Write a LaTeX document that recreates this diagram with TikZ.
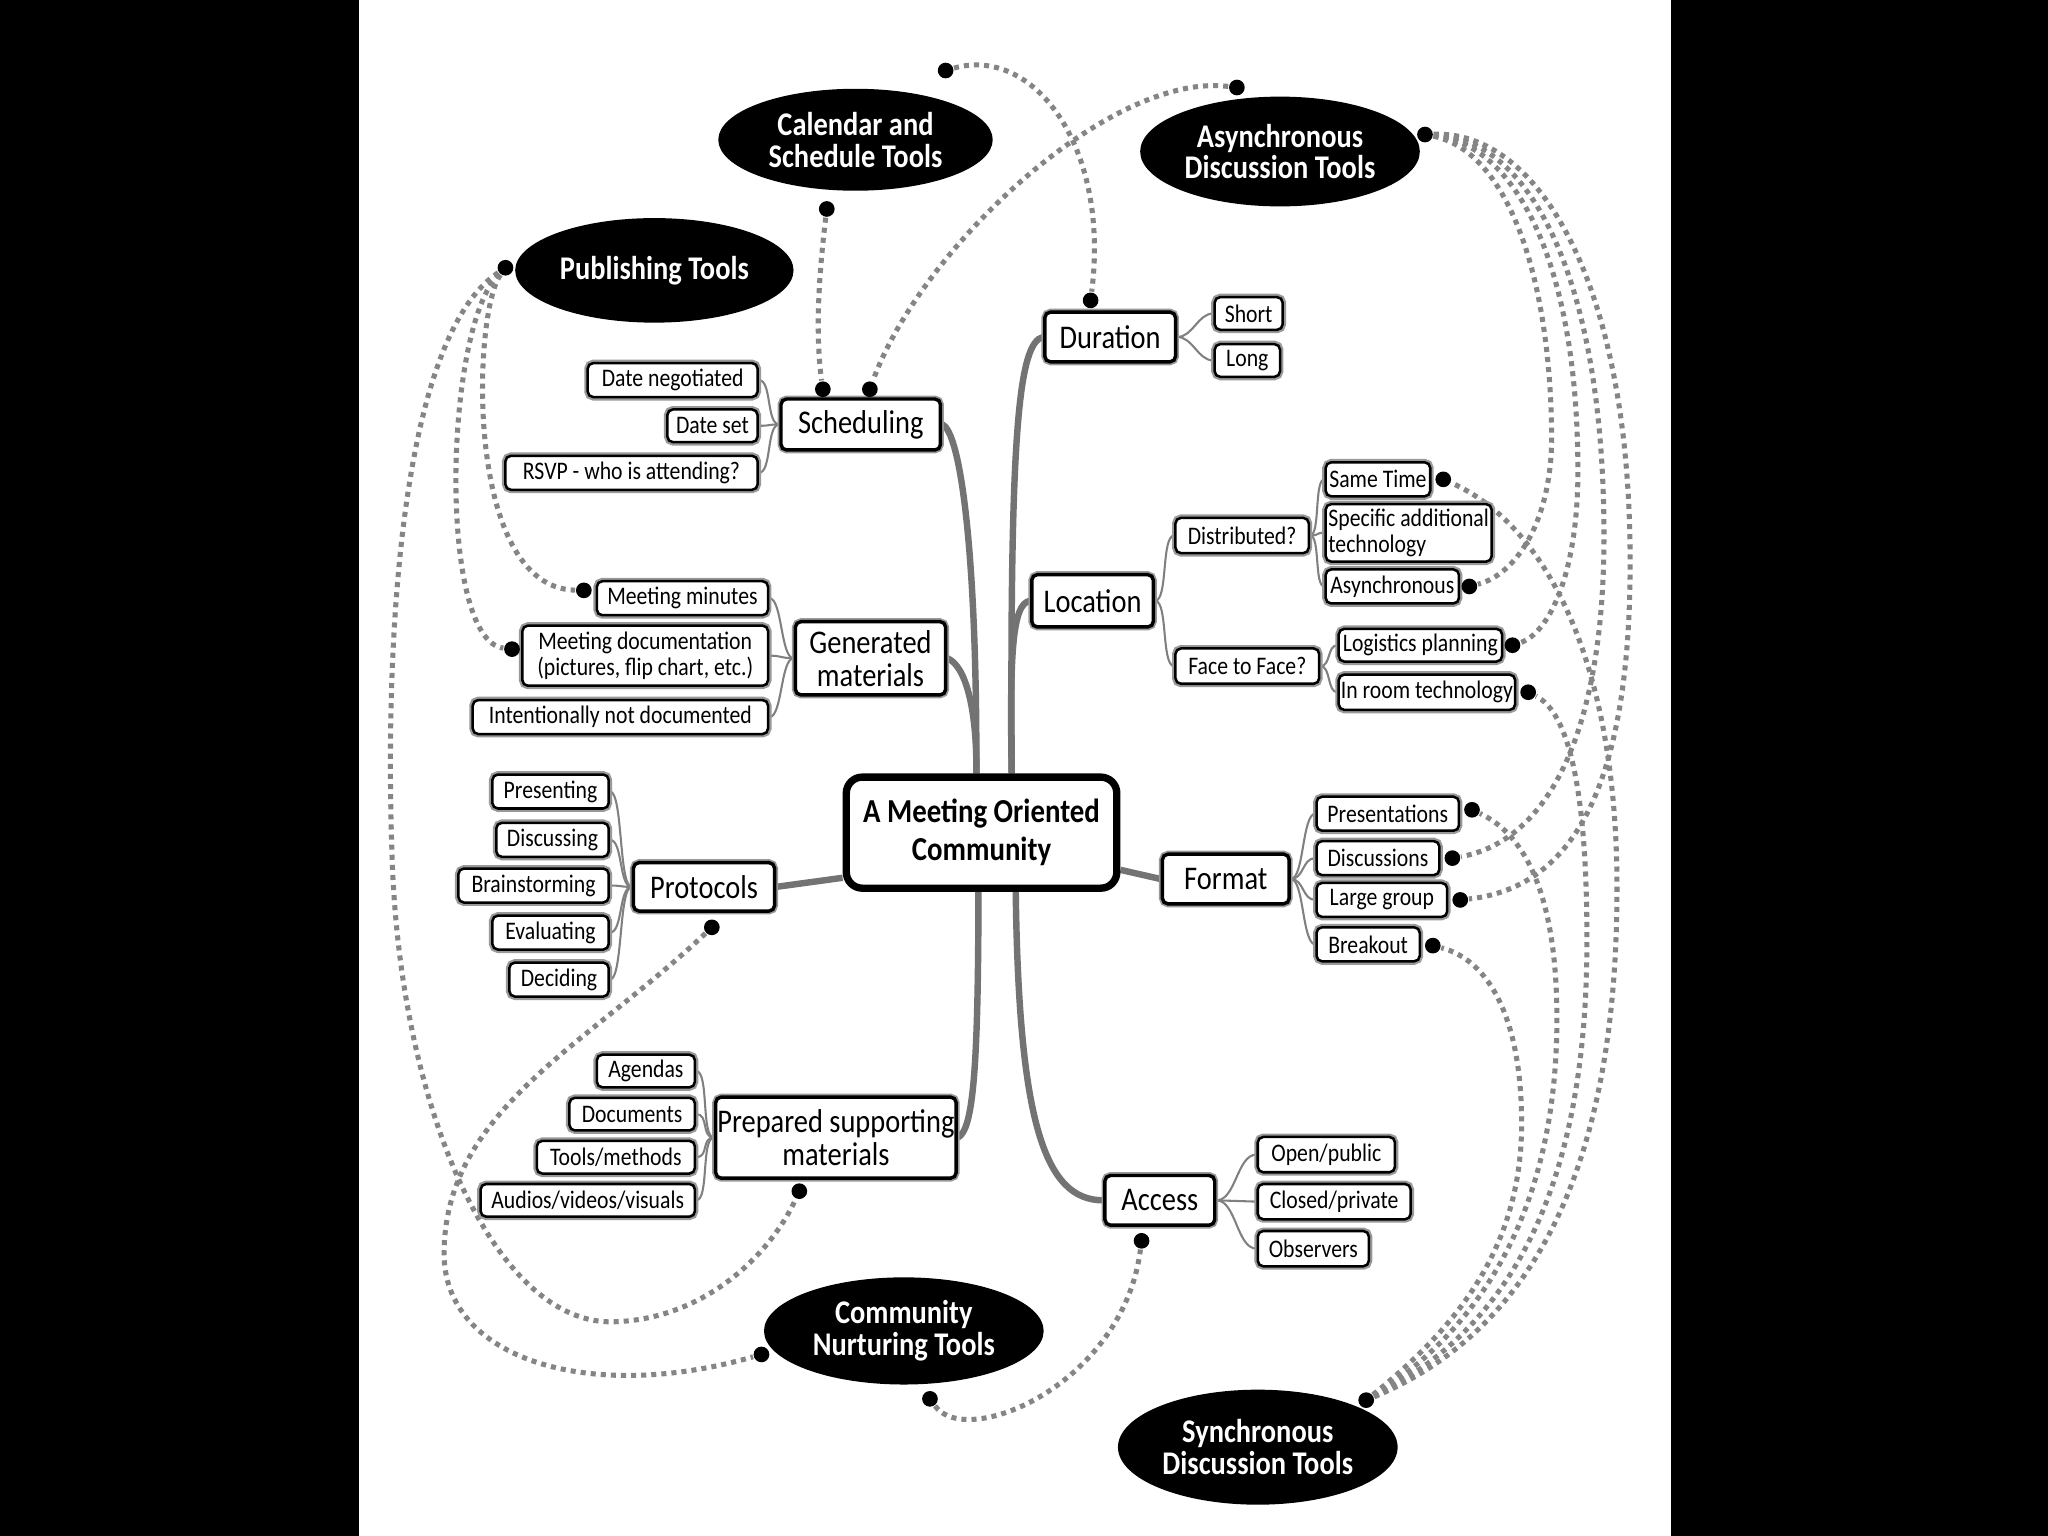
\documentclass[tikz,border=0pt]{standalone}
\usepackage{fontspec}
\setmainfont{Carlito}
\newfontfamily\boxfont{Carlito}[FakeStretch=0.86]
\newfontfamily\toolfont{Carlito}[FakeStretch=0.86]
\usetikzlibrary{shapes.geometric}
\pgfdeclarelayer{bg}
\pgfdeclarelayer{paper}
\pgfsetlayers{paper,bg,main}
\tikzset{
 sbox/.style={draw=black, fill=white, line width=0.55pt, rounded corners=1.2pt, inner sep=0pt, align=center, minimum height=0.26cm, font=\boxfont\fontsize{5.5}{5.8}\selectfont, preaction={draw=black!40, line width=1.5pt}},
 mbox/.style={sbox, line width=0.75pt, font=\boxfont\fontsize{7.2}{7.2}\selectfont},
 ctrbox/.style={draw=black, fill=white, line width=1.6pt, rounded corners=3.5pt, inner sep=0pt, align=center, font=\toolfont\bfseries\fontsize{7.3}{8.3}\selectfont},
 tool/.style={ellipse, fill=black, inner sep=0pt, text=white, align=center, font=\toolfont\bfseries\fontsize{7.2}{6.9}\selectfont},
 dotn/.style={circle, fill=black, inner sep=0pt, minimum size=0.12cm},
 trunk/.style={draw=black!55, line width=1.4pt},
 twig/.style={draw=black!50, line width=0.45pt},
 dotline/.style={draw=black!48, line width=1.1pt, dash pattern=on 1.1pt off 1.1pt},
}
\begin{document}
\begin{tikzpicture}[x=0.01cm,y=-0.01cm]
\useasboundingbox (0,0) rectangle (1568,1176);
\begin{pgfonlayer}{paper}
\fill[white] (0,0) rectangle (1568,1176);
\fill[black] (0,0) rectangle (275,1176);
\fill[black] (1279,0) rectangle (1568,1176);
\end{pgfonlayer}

% centre
\node[ctrbox, minimum width=2.07cm, minimum height=0.85cm] (ctr) at (751.5,637.5) {A Meeting Oriented\\Community};

% tool ellipses
\node[tool, minimum width=2.10cm, minimum height=0.78cm] (cal) at (655,107) {Calendar and\\Schedule Tools};
\node[tool, minimum width=2.14cm, minimum height=0.84cm] (asy) at (980,116) {Asynchronous\\Discussion Tools};
\node[tool, minimum width=2.13cm, minimum height=0.80cm] (pub) at (501,207) {Publishing Tools};
\node[tool, minimum width=2.14cm, minimum height=0.82cm] (cnt) at (692,1019) {Community\\Nurturing Tools};
\node[tool, minimum width=2.14cm, minimum height=0.88cm] (syn) at (963,1108) {Synchronous\\Discussion Tools};

% left main
\node[mbox, minimum width=1.22cm, minimum height=0.39cm] (sched) at (659,325) {Scheduling};
\node[sbox, minimum width=1.30cm] (dn) at (515,291) {Date negotiated};
\node[sbox, minimum width=0.69cm, minimum height=0.25cm] (ds) at (545.5,326) {Date set};
\node[sbox, minimum width=1.93cm] (rsvp) at (483.5,362) {RSVP - who is attending?};

\node[mbox, minimum width=1.15cm, minimum height=0.56cm] (gen) at (666.5,504) {Generated\\materials};
\node[sbox, minimum width=1.31cm] (mm) at (522.5,458) {Meeting minutes};
\node[sbox, minimum width=1.88cm, minimum height=0.46cm] (md) at (494,502) {Meeting documentation\\(pictures, flip chart, etc.)};
\node[sbox, minimum width=2.26cm] (ind) at (475,549) {Intentionally not documented};

\node[mbox, minimum width=1.08cm, minimum height=0.37cm] (prot) at (539,679) {Protocols};
\node[sbox, minimum width=0.89cm] (pres) at (421.5,606) {Presenting};
\node[sbox, minimum width=0.86cm] (disc) at (423,643) {Discussing};
\node[sbox, minimum width=1.15cm] (brain) at (408.5,678) {Brainstorming};
\node[sbox, minimum width=0.89cm] (eval) at (421.5,714) {Evaluating};
\node[sbox, minimum width=0.76cm] (dec) at (428,750) {Deciding};

\node[mbox, minimum width=1.84cm, minimum height=0.62cm] (prep) at (640,871) {Prepared supporting\\materials};
\node[sbox, minimum width=0.75cm, minimum height=0.25cm] (ag) at (494.5,820) {Agendas};
\node[sbox, minimum width=0.96cm, minimum height=0.25cm] (docs) at (484,853) {Documents};
\node[sbox, minimum width=1.21cm, minimum height=0.25cm] (tools) at (471.5,886) {Tools/methods};
\node[sbox, minimum width=1.64cm, minimum height=0.25cm] (av) at (450,919) {Audios/videos/visuals};

% right main
\node[mbox, minimum width=1.00cm, minimum height=0.38cm] (dur) at (850,258) {Duration};
\node[sbox, minimum width=0.52cm, minimum height=0.25cm] (short) at (956,240) {Short};
\node[sbox, minimum width=0.50cm, minimum height=0.25cm] (long) at (955,276) {Long};

\node[mbox, minimum width=0.93cm, minimum height=0.40cm] (loc) at (836.5,460) {Location};
\node[sbox, minimum width=1.02cm, minimum height=0.27cm] (dist) at (951,410) {Distributed?};
\node[sbox, minimum width=1.10cm, minimum height=0.27cm] (f2f) at (955,510) {Face to Face?};
\node[sbox, minimum width=0.80cm] (same) at (1055,367) {Same Time};
\node[sbox, minimum width=1.27cm, minimum height=0.44cm, align=left] (spec) at (1078.5,408) {Specific additional\\technology};
\node[sbox, minimum width=1.02cm] (asyn) at (1066,449) {Asynchronous};
\node[sbox, minimum width=1.25cm, minimum height=0.25cm] (logi) at (1087.5,494) {Logistics planning};
\node[sbox, minimum width=1.35cm, minimum height=0.27cm] (inroom) at (1092.5,530) {In room technology};

\node[mbox, minimum width=0.97cm, minimum height=0.38cm] (fmt) at (938.5,673) {Format};
\node[sbox, minimum width=1.09cm] (presn) at (1062.5,623) {Presentations};
\node[sbox, minimum width=0.94cm] (discn) at (1055,657) {Discussions};
\node[sbox, minimum width=1.00cm] (large) at (1058,689) {Large group};
\node[sbox, minimum width=0.79cm] (brk) at (1047.5,723) {Breakout};

\node[mbox, minimum width=0.84cm, minimum height=0.38cm] (acc) at (888,919) {Access};
\node[sbox, minimum width=1.05cm, minimum height=0.27cm] (open) at (1015.5,884) {Open/public};
\node[sbox, minimum width=1.17cm, minimum height=0.27cm] (closed) at (1021.5,920) {Closed/private};
\node[sbox, minimum width=0.85cm, minimum height=0.27cm] (obs) at (1005.5,956) {Observers};

% end dots
\node[dotn] (calb) at (633,160) {};
\node[dotn] (calt) at (724,54) {};
\node[dotn] (schl) at (630,298) {};
\node[dotn] (schr) at (666,298) {};
\node[dotn] (durt) at (835,230) {};
\node[dotn] (asytl) at (947,67) {};
\node[dotn] (asyr) at (1091,103) {};
\node[dotn] (pubd) at (387,205) {};
\node[dotn] (mmd) at (447,452) {};
\node[dotn] (mdd) at (392,497) {};
\node[dotn] (protd) at (545,710) {};
\node[dotn] (prepd) at (612,912) {};
\node[dotn] (cntl) at (583,1037) {};
\node[dotn] (cntb) at (712,1071) {};
\node[dotn] (accd) at (874,950) {};
\node[dotn] (syntr) at (1046,1072) {};
\node[dotn] (samed) at (1105,367) {};
\node[dotn] (asynd) at (1125,449) {};
\node[dotn] (logd) at (1158,494) {};
\node[dotn] (inrd) at (1170,530) {};
\node[dotn] (presd) at (1127,620) {};
\node[dotn] (discd) at (1112,657) {};
\node[dotn] (larged) at (1118,689) {};
\node[dotn] (brkd) at (1097,724) {};

\begin{pgfonlayer}{bg}
% trunks
\draw[trunk] (ctr.95) .. controls (748,420) and (735,330) .. (sched.east);
\draw[trunk] (ctr.95) .. controls (748,545) and (740,510) .. (gen.east);
\draw[trunk] (ctr.63) .. controls (773,330) and (780,262) .. (dur.west);
\draw[trunk] (ctr.63) .. controls (773,500) and (775,462) .. (loc.west);
\draw[trunk] (ctr.-93) .. controls (749,820) and (745,865) .. (prep.east);
\draw[trunk] (ctr.-60) .. controls (780,860) and (800,919) .. (acc.west);
\draw[trunk] (ctr.-162) -- (prot.east);
\draw[trunk] (ctr.-15) -- (fmt.west);
% twigs
\foreach \c in {dn,ds,rsvp} \draw[twig] (sched.west) .. controls +(-10,0) and +(10,0) .. (\c.east);
\foreach \c in {mm,md,ind} \draw[twig] (gen.west) .. controls +(-10,0) and +(10,0) .. (\c.east);
\foreach \c in {pres,disc,brain,eval,dec} \draw[twig] (prot.west) .. controls +(-10,0) and +(10,0) .. (\c.east);
\foreach \c in {ag,docs,tools,av} \draw[twig] (prep.west) .. controls +(-10,0) and +(10,0) .. (\c.east);
\foreach \c in {short,long} \draw[twig] (dur.east) .. controls +(12,0) and +(-12,0) .. (\c.west);
\foreach \c in {dist,f2f} \draw[twig] (loc.east) .. controls +(10,0) and +(-10,0) .. (\c.west);
\foreach \c in {same,spec,asyn} \draw[twig] (dist.east) .. controls +(8,0) and +(-8,0) .. (\c.west);
\foreach \c in {logi,inroom} \draw[twig] (f2f.east) .. controls +(8,0) and +(-8,0) .. (\c.west);
\foreach \c in {presn,discn,large,brk} \draw[twig] (fmt.east) .. controls +(10,0) and +(-10,0) .. (\c.west);
\foreach \c in {open,closed,obs} \draw[twig] (acc.east) .. controls +(15,0) and +(-15,0) .. (\c.west);
% dotted tool links
\draw[dotline] (calb) .. controls (627,210) and (624,255) .. (schl);
\draw[dotline] (calt) .. controls (790,35) and (850,110) .. (durt);
\draw[dotline] (asytl) .. controls (850,55) and (705,190) .. (schr);
\draw[dotline] (pubd) .. controls (362,240) and (355,450) .. (mmd);
\draw[dotline] (pubd) .. controls (340,250) and (335,490) .. (mdd);
\draw[dotline] (pubd) .. controls (305,260) and (295,500) .. (300,650) .. controls (305,850) and (380,1015) .. (470,1012) .. controls (540,1010) and (590,960) .. (prepd);
\draw[dotline] (protd) .. controls (450,800) and (340,850) .. (340,960) .. controls (340,1040) and (450,1075) .. (cntl);
\draw[dotline] (cntb) .. controls (740,1110) and (860,1060) .. (accd);
\draw[dotline] (asyr) .. controls (1150,115) and (1186,200) .. (1188,330) .. controls (1189,400) and (1160,440) .. (asynd);
\draw[dotline] (asyr) .. controls (1160,110) and (1206,200) .. (1208,350) .. controls (1210,440) and (1185,485) .. (logd);
\draw[dotline] (asyr) .. controls (1170,105) and (1226,210) .. (1228,400) .. controls (1230,570) and (1180,645) .. (discd);
\draw[dotline] (asyr) .. controls (1180,100) and (1246,220) .. (1248,420) .. controls (1250,610) and (1200,680) .. (larged);
\draw[dotline] (syntr) .. controls (1110,1020) and (1165,960) .. (1165,860) .. controls (1165,780) and (1140,735) .. (brkd);
\draw[dotline] (syntr) .. controls (1130,1020) and (1192,930) .. (1192,780) .. controls (1192,690) and (1170,640) .. (presd);
\draw[dotline] (syntr) .. controls (1150,1020) and (1215,920) .. (1215,720) .. controls (1215,600) and (1200,545) .. (inrd);
\draw[dotline] (syntr) .. controls (1170,1020) and (1238,900) .. (1238,680) .. controls (1238,500) and (1180,400) .. (samed);
\end{pgfonlayer}
\end{tikzpicture}
\end{document}
